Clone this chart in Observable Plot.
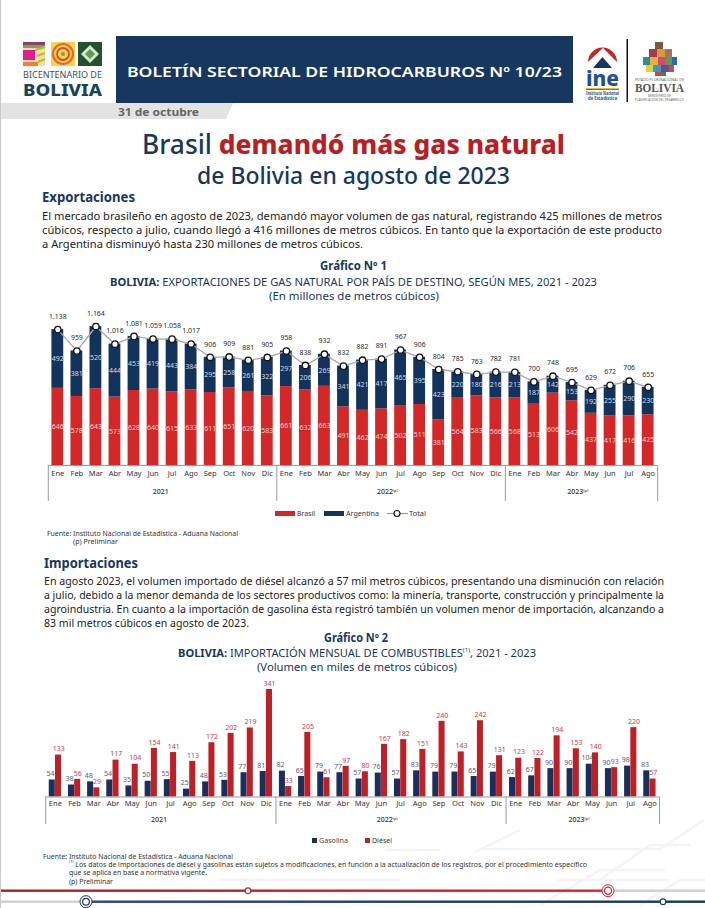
<!DOCTYPE html>
<html lang="es">
<head>
<meta charset="utf-8">
<script src="https://cdn.jsdelivr.net/npm/d3@7"></script>
<script src="https://cdn.jsdelivr.net/npm/@observablehq/plot@0.6"></script>
<style>
html,body{margin:0;padding:0;background:#fff}
#page{position:relative;width:705px;height:908px;overflow:hidden;background:#fff;font-family:"Noto Sans",sans-serif}
.t{position:absolute;white-space:nowrap;line-height:1;transform-origin:left center}
.abs{position:absolute}
sup{font-size:55%;line-height:0}
</style>
</head>
<body>
<div id="page">
<svg class="abs" style="left:0;top:0" width="705" height="908" viewBox="0 0 705 908">
  <!-- watermark -->
  <g fill="none" stroke="#f4f4f4" stroke-width="2.5">
    <path d="M480 849 L 660 849 L 704 820"/><path d="M600 880 L 650 845 L 690 845"/><path d="M475 852 L 520 830"/>
    <path d="M540 905 L 600 870 L 665 870"/><path d="M220 880 L 400 880"/><path d="M640 905 L 680 880 L 705 880"/>
    <path d="M558 880 L 670 880"/><path d="M385 850 L 440 850"/>
  </g>
  <rect x="0" y="0" width="1" height="908" fill="#c9c9c9"/>
  <!-- date band -->
  <path d="M1 103 H233 L226 119 H1 Z" fill="#e3e3e3"/>
  <!-- header -->
  <rect x="116" y="36" width="457" height="67" fill="#17375f"/>
  <!-- bicentenario logo -->
  <g>
    <rect x="23" y="42" width="22" height="24" fill="#e9e1b0"/>
    <rect x="23" y="42" width="22" height="3" fill="#8e3b78"/><rect x="23" y="45" width="22" height="3" fill="#7aa63c"/>
    <rect x="23" y="50" width="12" height="10" fill="#e01f8c"/><rect x="23" y="62" width="15" height="4" fill="#f08030"/>
    <path d="M35 50 L45 47 M37 56 L45 53 M38 62 L45 59" stroke="#c8b820" stroke-width="2"/>
    <rect x="51" y="42" width="24" height="24" fill="#f5d44e"/>
    <circle cx="63" cy="54" r="10" fill="none" stroke="#e8682a" stroke-width="2.2"/>
    <circle cx="63" cy="54" r="6" fill="none" stroke="#d8483a" stroke-width="1.8"/>
    <circle cx="63" cy="54" r="2" fill="#7aa63c"/>
    <rect x="78" y="42" width="24" height="24" fill="#24512f"/>
    <path d="M90 45 L99 54 L90 63 L81 54 Z" fill="#d8e8c8"/><path d="M90 49 L95 54 L90 59 L85 54 Z" fill="#5f9a55"/>
  </g>
  <!-- INE logo -->
  <g>
    <path d="M588 62 A14.5 14.5 0 1 1 617 62 L 603 48 Z" fill="#c5281f"/>
    <path d="M593 68 L 602.5 57 L 612 68 Z" fill="#17375f"/>
    <rect x="586" y="88" width="33" height="1" fill="#e0c020"/><rect x="586" y="89" width="16" height="1" fill="#d33"/><rect x="602" y="89" width="17" height="1" fill="#3a3"/>
    <rect x="626.5" y="39" width="1.5" height="63" fill="#111"/>
  </g>
  <!-- state patchwork -->
  <g>
    <rect x="649" y="49" width="8" height="8" fill="#a23a5b"/><rect x="657" y="49" width="8" height="8" fill="#d89a3a"/><rect x="665" y="49" width="7" height="8" fill="#9a7a5a"/>
    <rect x="643" y="57" width="7" height="8" fill="#2f8f8a"/><rect x="650" y="57" width="8" height="8" fill="#e4b23a"/><rect x="658" y="57" width="7" height="8" fill="#d34a6a"/><rect x="665" y="57" width="7" height="8" fill="#5f9a55"/><rect x="672" y="57" width="5" height="8" fill="#2a6ab0"/>
    <rect x="646" y="65" width="7" height="7" fill="#e0cf3a"/><rect x="653" y="65" width="8" height="7" fill="#3a9ac0"/><rect x="661" y="65" width="8" height="7" fill="#6a4a9a"/><rect x="669" y="65" width="5" height="7" fill="#c84a4a"/>
    <rect x="655" y="72" width="6" height="4" fill="#c84a4a"/><rect x="661" y="72" width="5" height="4" fill="#3a8a4a"/>
    <rect x="655" y="42" width="8" height="7" fill="#7a5a3a"/>
  </g>
  <!-- footer lines -->
  <defs><linearGradient id="rg"><stop offset="0" stop-color="#a6202c"/><stop offset="1" stop-color="#ee1c25"/></linearGradient>
  <linearGradient id="bg"><stop offset="0" stop-color="#2f3f9a"/><stop offset="1" stop-color="#17375f"/></linearGradient></defs>
  <rect x="1" y="889.5" width="602" height="2.4" fill="url(#rg)"/><rect x="603" y="889.5" width="102" height="2.4" fill="#d0d0d0"/>
  <rect x="1" y="900.5" width="85" height="2.4" fill="#d0d0d0"/><rect x="86" y="900.5" width="619" height="2.4" fill="url(#bg)"/>
  <circle cx="248" cy="890.7" r="2.8" fill="#fff" stroke="#c0272d" stroke-width="1.1"/>
  <circle cx="663" cy="901.7" r="2.8" fill="#fff" stroke="#17375f" stroke-width="1.1"/>
  <g fill="#fff" stroke="#e0202a"><circle cx="608" cy="890.7" r="6" stroke-width="1"/><circle cx="608" cy="890.7" r="3.6" stroke-width="1.2"/></g>
  <g fill="#fff" stroke="#17375f"><circle cx="86" cy="901.7" r="6" stroke-width="1"/><circle cx="86" cy="901.7" r="3.4" stroke-width="1.2"/></g>
  <!-- legend swatches -->
  <rect x="275" y="511" width="20" height="5" fill="#d42828"/>
  <rect x="324" y="511" width="20" height="5" fill="#12335b"/>
  <line x1="387" x2="408" y1="513.5" y2="513.5" stroke="#9a9a9a" stroke-width="1.2"/>
  <circle cx="397" cy="513.5" r="3" fill="#fff" stroke="#111" stroke-width="1.1"/>
  <rect x="312" y="838" width="5" height="5" fill="#1b2f5b"/>
  <rect x="365" y="838" width="5" height="5" fill="#c11f26"/>
</svg>
</div>
<script>
// ---------- Data ----------
const months = ["Ene","Feb","Mar","Abr","May","Jun","Jul","Ago","Sep","Oct","Nov","Dic",
                "Ene","Feb","Mar","Abr","May","Jun","Jul","Ago","Sep","Oct","Nov","Dic",
                "Ene","Feb","Mar","Abr","May","Jun","Jul","Ago"];
const brasil = [646,578,643,573,628,640,615,633,611,651,620,583,
                661,632,663,491,462,474,502,511,381,564,583,566,
                568,513,606,542,437,417,416,425];
const argentina = [492,381,520,444,453,419,443,384,295,258,261,322,
                   297,206,269,341,421,417,465,395,423,220,180,216,
                   213,187,142,153,192,255,290,230];
const total = [1138,959,1164,1016,1081,1059,1058,1017,906,909,881,905,
               958,838,932,832,882,891,967,906,804,785,763,782,
               781,700,748,695,629,672,706,655];
const gasolina = [54,38,48,54,35,50,55,25,48,53,77,81,
                  82,65,79,77,57,76,57,83,79,79,65,79,
                  62,67,90,90,104,90,98,83];
const diesel = [133,56,29,117,104,154,141,113,172,202,219,341,
                33,205,61,97,80,167,182,151,240,143,242,131,
                123,122,194,153,140,93,220,57];
const yearLabels = ["2021","2022(p)","2023(p)"];
const yearCenters = [5.4,17.3,27.3];
const yearBreaks = [-0.5,11.5,23.5,31.5];

// ---------- Text ----------
const page = document.getElementById("page");
function line(html,x1,x2,y,size,weight,color){
  const el=document.createElement("div");
  el.className="t"; el.innerHTML=html;
  el.style.cssText+=`left:${x1}px;top:${y}px;font-size:${size}px;font-weight:${weight};color:${color};`;
  page.appendChild(el);
  const w=el.getBoundingClientRect().width;
  el.style.transform=`translateY(-50%) scaleX(${(x2-x1)/w})`;
}
const navy="#17375f", ink="#222";
const texts=[
["BOLETÍN SECTORIAL DE HIDROCARBUROS Nº 10/23",127,562,71,15,600,"#fff"],
["31 de octubre",118,199,112,10.5,700,"#666"],
["BICENTENARIO DE",23,102,75,8,400,"#2f5560"],
["BOLIVIA",23,102,89.5,16.5,800,"#17465a"],
["ine",586,619,77,22,800,"#1e4f9c"],
["Instituto Nacional",586,619,93,4.8,700,"#1e4f9c"],
["de Estadística",588,617,98,4.8,700,"#1e4f9c"],
["ESTADO PLURINACIONAL DE",635,684,79.5,3,400,"#666"],
[`<span style="font-family:'Liberation Serif'">BOLIVIA</span>`,635,684,88,12,700,"#555"],
["MINISTERIO DE",648,671,96,3,400,"#666"],
["PLANIFICACIÓN DEL DESARROLLO",635,684,100,3,400,"#666"],
[`<span style="color:${navy};font-weight:500">Brasil </span><span style="color:#b81f25;font-weight:800">demandó más gas natural</span>`,142,565,143,27,400,navy],
["de Bolivia en agosto de 2023",197,510,175,23,500,navy],
["Exportaciones",42,135,197,14,700,navy],
["El mercado brasileño en agosto de 2023, demandó mayor volumen de gas natural, registrando 425 millones de metros",42,662,215,11,400,ink],
["cúbicos, respecto a julio, cuando llegó a 416 millones de metros cúbicos. En tanto que la exportación de este producto",42,662,229,11,400,ink],
["a Argentina disminuyó hasta 230 millones de metros cúbicos.",42,363,243,11,400,ink],
["Gráfico Nº 1",320,387,266,11.5,700,navy],
[`<b>BOLIVIA:</b> EXPORTACIONES DE GAS NATURAL POR PAÍS DE DESTINO, SEGÚN MES, 2021 - 2023`,110,597,281,11,400,navy],
["(En millones de metros cúbicos)",269,439,295,11,400,navy],
["Brasil",297,315,513.5,7.5,400,"#333"],
["Argentina",346,379,513.5,7.5,400,"#333"],
["Total",409,426,513.5,7.5,400,"#333"],
["Fuente: Instituto Nacional de Estadística - Aduana Nacional",47,238,533,7,400,"#333"],
["(p) Preliminar",73,118,541,7,400,"#333"],
["Importaciones",44,138,563,14,700,navy],
["En agosto 2023, el volumen importado de diésel alcanzó a 57 mil metros cúbicos, presentando una disminución con relación",44,664,580,11,400,ink],
["a julio, debido a la menor demanda de los sectores productivos como: la minería, transporte, construcción y principalmente la",44,664,594,11,400,ink],
["agroindustria. En cuanto a la importación de gasolina ésta registró también un volumen menor de importación, alcanzando a",44,664,608,11,400,ink],
["83 mil metros cúbicos en agosto de 2023.",44,249,622,11,400,ink],
["Gráfico Nº 2",324,388,638,11.5,700,navy],
[`<b>BOLIVIA:</b> IMPORTACIÓN MENSUAL DE COMBUSTIBLES<sup>(1)</sup>, 2021 - 2023`,178,536,652,11,400,navy],
["(Volumen en miles de metros cúbicos)",257,457,666,11,400,navy],
["Gasolina",319,348,840.5,7.5,400,"#444"],
["Diésel",372,392,840.5,7.5,400,"#333"],
["Fuente: Instituto Nacional de Estadística - Aduana Nacional",43,233,856,7,400,"#333"],
[`<sup>(1)</sup> Los datos de importaciones de diésel y gasolinas están sujetos a modificaciones, en función a la actualización de los registros, por el procedimiento específico`,69,587,864,7,400,"#333"],
["que se aplica en base a normativa vigente.",69,207,872,7,400,"#333"],
["(p) Preliminar",69,113,880.5,7,400,"#333"]
];
texts.forEach(t=>line(...t));

// ---------- Charts ----------
const idx = d3.range(months.length);
const fmt = n => String(n).replace(/\B(?=(\d{3})+$)/g,".");
const base = {width:705,marginLeft:47.8,marginRight:47.8,
  style:{fontFamily:"'Noto Sans',sans-serif",background:"transparent",overflow:"visible"}};
const xBase = {domain:[-0.5,31.5],axis:null};
function supYears(svg){
  svg.querySelectorAll("text").forEach(t=>{
    if(/^\d{4}\(p\)$/.test(t.textContent)){
      const y=t.textContent.slice(0,4);
      t.textContent=y;
      const s=document.createElementNS("http://www.w3.org/2000/svg","tspan");
      s.setAttribute("font-size","3.8"); s.setAttribute("dy","-2"); s.textContent="(p)";
      t.appendChild(s);
    }
  });
}

const c1 = Plot.plot({...base,height:205,marginTop:26,marginBottom:40,
  x:xBase, y:{domain:[0,1164],axis:null},
  marks:[
    Plot.rectY(idx,{x1:i=>i-0.31,x2:i=>i+0.31,y1:0,y2:i=>brasil[i],fill:"#d42828"}),
    Plot.rectY(idx,{x1:i=>i-0.31,x2:i=>i+0.31,y1:i=>brasil[i],y2:i=>brasil[i]+argentina[i],fill:"#12335b"}),
    Plot.ruleY([0],{stroke:"#9c9c9c",strokeWidth:1.2}),
    Plot.ruleX(yearBreaks,{stroke:"#9c9c9c",strokeWidth:1,insetTop:139,insetBottom:-36}),
    Plot.axisX({ticks:idx,tickFormat:i=>months[i],tickSize:0,tickPadding:5,fontSize:7.5,color:"#333"}),
    Plot.text(yearCenters,{x:d=>d,frameAnchor:"bottom",dy:26.5,text:(d,i)=>yearLabels[i],fontSize:7,fontWeight:500,fill:"#333",lineAnchor:"middle"}),
    Plot.text(idx,{x:i=>i,y:i=>brasil[i]/2,text:i=>brasil[i],fill:"#f7d0d0",fontSize:7}),
    Plot.text(idx,{x:i=>i,y:i=>brasil[i]+argentina[i]/2,text:i=>argentina[i],fill:"#cfdcec",fontSize:7}),
    Plot.line(idx,{x:i=>i,y:i=>total[i],stroke:"#a8a8a8",strokeWidth:1.3}),
    Plot.dot(idx,{x:i=>i,y:i=>total[i],r:3.2,fill:"#fff",stroke:"#111",strokeWidth:1.3}),
    Plot.text(idx,{x:i=>i,y:i=>total[i],text:i=>fmt(total[i]),dy:-13,fontSize:6.9,fill:"#2a2a2a"})
  ]});
supYears(c1);
c1.style.position="absolute"; c1.style.left="0"; c1.style.top="300px";
page.appendChild(c1);

const c2 = Plot.plot({...base,marginLeft:45.3,marginRight:46,height:154,marginTop:19,marginBottom:27.5,
  x:xBase, y:{domain:[0,341],axis:null},
  marks:[
    Plot.rectY(idx,{x1:i=>i-0.32,x2:i=>i-0.005,y1:0,y2:i=>gasolina[i],fill:"#1b2f5b"}),
    Plot.rectY(idx,{x1:i=>i+0.005,x2:i=>i+0.32,y1:0,y2:i=>diesel[i],fill:"#c11f26"}),
    Plot.ruleY([0],{stroke:"#9c9c9c",strokeWidth:1.2}),
    Plot.ruleX(yearBreaks,{stroke:"#9c9c9c",strokeWidth:1,insetTop:107.5,insetBottom:-27.5}),
    Plot.axisX({ticks:idx,tickFormat:i=>months[i],tickSize:0,tickPadding:4,fontSize:7.5,color:"#333"}),
    Plot.text(yearCenters,{x:d=>d,frameAnchor:"bottom",dy:22.5,text:(d,i)=>yearLabels[i],fontSize:7,fontWeight:500,fill:"#333",lineAnchor:"middle"}),
    Plot.text(idx,{x:i=>i-0.26,y:i=>gasolina[i],text:i=>gasolina[i],dy:-6,fontSize:7,fill:"#4d6285"}),
    Plot.text(idx,{x:i=>i+0.17,y:i=>diesel[i],text:i=>diesel[i],dy:-6,fontSize:7,fill:"#d8344f"})
  ]});
supYears(c2);
c2.style.position="absolute"; c2.style.left="0"; c2.style.top="670px";
page.appendChild(c2);
</script>
</body>
</html>
